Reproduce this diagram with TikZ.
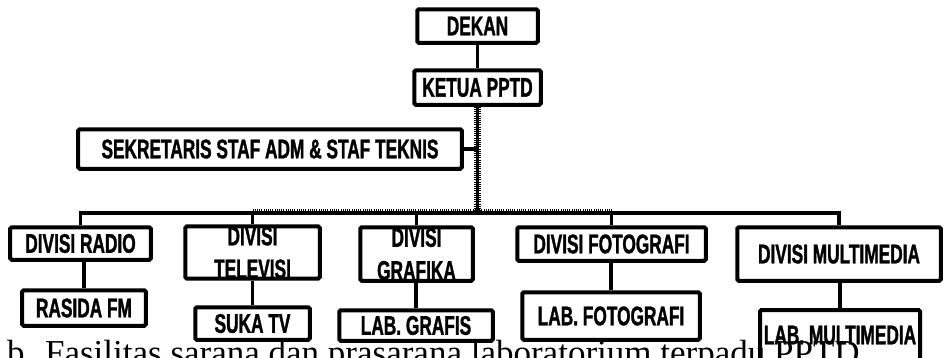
\documentclass[tikz,border=0pt]{standalone}
\usepackage{fontspec}
\setmainfont{Liberation Serif}
\newfontfamily\boxfont[FakeStretch=0.64,FakeBold=1.2]{Liberation Sans}
\begin{document}
\begin{tikzpicture}[x=1bp,y=-1bp,
  box/.style={draw, line width=4bp, rounded corners=1.5bp, inner sep=0pt,
    font=\boxfont\bfseries\fontsize{27bp}{33bp}\selectfont, align=center},
  link/.style={line width=3.5bp},
  trunk/.style={line width=3.5bp, postaction={draw, line width=7bp, dash pattern=on 1bp off 1.2bp}},
  fringe/.style={line width=2bp, dash pattern=on 1bp off 1.2bp}]
\useasboundingbox (0,0) rectangle (945,357);

% caption (behind the boxes)
\node[anchor=base west, inner sep=0pt, font=\fontsize{35bp}{40bp}\selectfont] (caption) at (7,364)
  {b. Fasilitas sarana dan prasarana laboratorium terpadu PPTD};

% boxes
\node[box, minimum width=120.5bp, minimum height=33.5bp] (dekan) at (477.5,26) {DEKAN};
\node[box, minimum width=126.5bp, minimum height=34.5bp] (ketua) at (477.5,87.5) {KETUA PPTD};
\node[box, minimum width=383.5bp, minimum height=39.5bp] (sek) at (270,149) {SEKRETARIS STAF ADM \& STAF TEKNIS};

\node[box, minimum width=140.5bp, minimum height=32.5bp] (radio) at (80.5,243.5) {DIVISI RADIO};
\node[box, minimum width=134.5bp, minimum height=50.5bp] (tv) at (252.5,252.5) {DIVISI\\TELEVISI};
\node[box, minimum width=112.5bp, minimum height=53.5bp] (grafika) at (416.5,254) {DIVISI\\GRAFIKA};
\node[box, minimum width=188.5bp, minimum height=33.5bp] (foto) at (611.5,244) {DIVISI FOTOGRAFI};
\node[box, minimum width=203.5bp, minimum height=53.5bp] (mm) at (839,254) {DIVISI MULTIMEDIA};

\node[box, minimum width=123.5bp, minimum height=35.5bp] (rasida) at (84,308) {RASIDA FM};
\node[box, minimum width=114.5bp, minimum height=32.5bp] (sukatv) at (252.5,323.5) {SUKA TV};
\node[box, minimum width=153.5bp, minimum height=30.5bp] (labgrafis) at (416,325.5) {LAB. GRAFIS};
\node[box, minimum width=177.5bp, minimum height=47.5bp] (labfoto) at (611,316) {LAB. FOTOGRAFI};
\node[box, minimum width=160bp, minimum height=60bp] (labmm) at (840,340) {\raisebox{10bp}{LAB. MULTIMEDIA}};

% connectors
\coordinate (bus) at (477.5,213);
\draw[link] (dekan) -- (ketua);
\draw[trunk] (ketua.south) -- (bus);
\draw[link] (sek.east) -- (sek.east -| bus);
\draw[link] (radio.north) -- (radio.north |- bus) -- (mm.north |- bus) -- (mm.north);
\draw[fringe] ([yshift=3bp]tv.north |- bus) -- ([yshift=3bp]foto.north |- bus);
\draw[link] (tv.north) -- (tv.north |- bus);
\draw[link] (grafika.north) -- (grafika.north |- bus);
\draw[link] (foto.north) -- (foto.north |- bus);

\draw[link] (rasida.north) -- (rasida.north |- radio.south);
\draw[link] (sukatv.north) -- (sukatv.north |- tv.south);
\draw[link] (labgrafis.north) -- (labgrafis.north |- grafika.south);
\draw[link] (labfoto.north) -- (labfoto.north |- foto.south);
\draw[link] (labmm.north) -- (labmm.north |- mm.south);
\end{tikzpicture}
\end{document}
